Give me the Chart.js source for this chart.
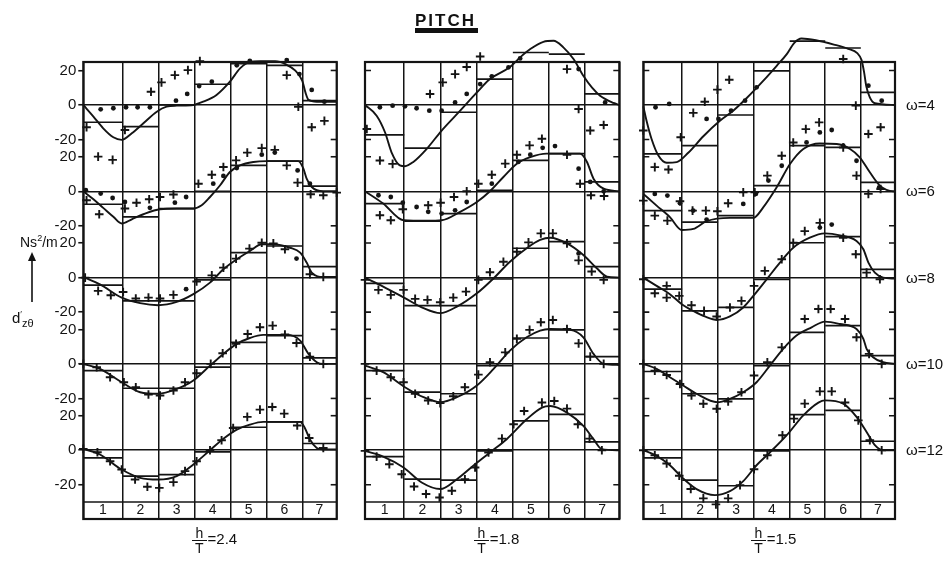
<!DOCTYPE html>
<html><head><meta charset="utf-8">
<script src="https://cdn.jsdelivr.net/npm/chart.js@4.4.1/dist/chart.umd.min.js"></script>
<style>
html,body{margin:0;padding:0;background:#fff;}
#wrap{position:relative;width:943px;height:564px;overflow:hidden;font-family:"Liberation Sans Narrow","Liberation Sans",Arial,sans-serif;color:#111;}
canvas{position:absolute;left:0;top:0;}
.t{position:absolute;white-space:nowrap;line-height:1;}
.frac{display:inline-block;vertical-align:middle;text-align:center;font-size:14px;margin-right:1px;}
.frac span{display:block;padding:0 3px;}
.frac .num{border-bottom:1.5px solid #111;}
</style></head><body>
<div id="wrap">
<canvas id="c0" width="943" height="564"></canvas>
<canvas id="c1" width="943" height="564"></canvas>
<canvas id="c2" width="943" height="564"></canvas>
<div class="t" style="left:415px;top:12px;font-family:'Liberation Sans',Arial,sans-serif;font-weight:bold;font-size:17px;letter-spacing:2px;">PITCH</div>
<div style="position:absolute;left:415px;top:28px;width:63px;height:5px;background:#111;"></div>
<div class="t" style="left:20px;top:234px;font-size:14px;">Ns<sup style="font-size:9px">2</sup>/m</div>
<svg style="position:absolute;left:26px;top:252px" width="12" height="52"><line x1="6" y1="6" x2="6" y2="50" stroke="#111" stroke-width="1.6"/><path d="M6 0 L2 9 L10 9 Z" fill="#111"/></svg>
<div class="t" style="left:12px;top:310px;font-size:15px;">d<sup style="font-size:9px">′</sup><sub style="font-size:11px">zθ</sub></div>
<div id="omegaLabels"></div>
<div id="ratioLabels"></div>
</div>
<script>
// ---------------- data ----------------
const omegas = [4, 6, 8, 10, 12];
const depthRatios = ['2.4', '1.8', '1.5'];
const stripLabels = ['1', '2', '3', '4', '5', '6', '7'];
const stripEdges = [0, 1.08, 2.08, 3.08, 4.07, 5.06, 6.05, 7];
const yTickValues = [20, 0, -20];
const bandValue = -30;   // lower edge of the omega=12 row (top of the strip label band)

// h/T = 2.4 : one entry per omega row
const steps24 = [
  [-10, -12.5, 0, 12, 24, 23, 2.5],
  [-7.5, -14.8, -10, 0, 15, 17.5, 3],
  [-4.4, -13.5, -13.5, -1.3, 14.5, 18.3, 6.4],
  [-3.9, -14.1, -14.1, -1.9, 12.5, 16.4, 3.5],
  [-4.4, -15, -14.1, -1, 13.3, 16.4, 3.9]
];
const curve24 = [
  [[0,0],[0.28,-6.7],[0.55,-13.5],[0.83,-18.7],[1.06,-20.2],[1.34,-16.4],[1.66,-10.6],[2.03,-3.9],[2.3,-1],[2.58,-0.4],[3.04,0],[3.31,1.9],[3.68,5.8],[4.05,13.5],[4.33,21.2],[4.6,25],[4.9,25.4],[5.3,25.4],[5.6,23.5],[5.85,20],[6.05,14],[6.14,7],[6.22,3],[6.45,1.9],[7,1.9]],
  [[0,0],[0.28,-4.6],[0.55,-9.6],[0.83,-14.8],[1.06,-18.7],[1.34,-16.2],[1.66,-13.3],[2.12,-10.4],[2.58,-10],[3.04,-10],[3.27,-8.1],[3.5,-3.3],[3.78,3.5],[4.05,11.2],[4.33,15],[4.7,17],[5.06,17.5],[5.94,17.5],[6.08,13.1],[6.17,7.3],[6.31,2.5],[6.63,0],[7,0]],
  [[0,0.4],[0.46,-3.9],[1.06,-11.6],[1.57,-14.8],[2.07,-16],[2.58,-14.1],[3.04,-9.6],[3.5,-2.9],[3.87,4.8],[4.24,10.6],[4.6,15.4],[4.93,19.3],[5.25,19.3],[5.71,17.3],[5.99,14.5],[6.17,8.7],[6.31,2.9],[6.63,0.4],[7,0.4]],
  [[0,0],[0.46,-2.9],[1.06,-10.6],[1.57,-16.4],[2.07,-17.3],[2.58,-14.5],[3.04,-9.6],[3.5,-1],[3.87,5.8],[4.24,11.6],[4.6,15],[4.97,16.8],[5.62,16.8],[5.99,13.5],[6.22,5.8],[6.45,1],[6.63,0],[7,0]],
  [[0,0.8],[0.46,-2.5],[1.06,-11.2],[1.57,-16],[2.07,-17],[2.58,-15],[3.04,-8.3],[3.5,0],[3.87,6.6],[4.24,11.9],[4.6,14.8],[4.97,16.4],[5.99,16.4],[6.12,12.9],[6.26,6.2],[6.45,1.3],[6.63,0.4],[7,0.4]]
];
const plus24 = [
  [[0.09,-12.9],[0.41,-29.9],[0.81,-31.8],[1.15,-14.5],[1.87,7.7],[2.16,13.1],[2.53,17.3],[2.89,20.2],[3.22,25.4],[3.57,28.9],[3.91,32.2],[4.25,36],[4.6,40.9],[4.93,40.9],[5.32,33.7],[5.62,17.3],[5.94,-1],[6.31,-12.9],[6.66,-9.2]],
  [[0.09,-5.2],[0.44,-13.3],[1.15,-10],[1.47,-6.6],[1.82,-4.6],[2.12,-3.3],[2.49,-1.9],[3.18,4.4],[3.55,9.6],[3.87,14.1],[4.22,17.9],[4.53,22.4],[4.93,25],[5.29,24],[5.62,15],[5.92,5],[6.28,-1.7],[6.63,-2.3],[7,-0.8]],
  [[0.05,0],[0.41,-7.7],[0.76,-10.2],[1.1,-8.3],[1.45,-12.1],[1.8,-11.6],[2.12,-12.1],[2.49,-10],[3.13,-2.3],[3.55,1.3],[3.87,5.8],[4.22,11],[4.59,16.8],[4.93,20.2],[5.25,19.8],[5.57,16.4],[6.26,1.9],[6.63,0.4]],
  [[0,0],[0.37,-1.9],[0.74,-7.7],[1.12,-10.6],[1.45,-13.5],[1.8,-17.7],[2.12,-18.3],[2.49,-15.4],[2.81,-10.6],[3.13,-5.4],[3.52,0],[3.85,6.2],[4.22,11.6],[4.54,17.3],[4.88,21.2],[5.23,22.2],[5.57,17],[5.89,12.1],[6.26,4.2],[6.63,0]],
  [[0,0.8],[0.39,-1.2],[0.74,-6.4],[1.06,-11.2],[1.43,-17],[1.77,-21.2],[2.1,-21.8],[2.49,-18.5],[2.81,-12.1],[3.13,-6.4],[3.5,0],[3.82,5.8],[4.14,12.9],[4.53,19.3],[4.88,23.5],[5.22,25],[5.55,21.2],[5.91,14.3],[6.24,7.1],[6.63,1.3]]
];
const dots24 = [
  [[0.48,-2.5],[0.83,-1.9],[1.18,-1.3],[1.5,-1.3],[1.84,-1.3],[2.56,2.5],[2.87,6.4],[3.2,11],[3.55,13.5],[4.24,23],[4.6,25.6],[4.93,30.2],[5.32,30.6],[5.62,26],[5.97,17.9],[6.31,8.7],[6.66,1.9]],
  [[0.07,0.6],[0.48,-1.3],[0.81,-3.9],[1.15,-6.2],[1.84,-9.6],[2.53,-6.6],[2.84,-3.3],[3.59,4.4],[3.87,8.9],[4.24,13.5],[4.93,21.2],[5.29,22.4],[5.92,12.1],[6.26,4.4]],
  [[2.84,-6.7],[5.89,11]],
  [],
  []
];

// h/T = 1.8
const steps18 = [
  [-17.3, -25, -4.2, 15, 30.4, 29.5, 6.4],
  [-7.1, -17.3, -12.9, 0.6, 17.9, 21.8, 5.4],
  [-3.3, -16.2, -16.2, -0.8, 17, 20.8, 6.4],
  [-3.9, -16.4, -17.3, -1, 15, 19.7, 4.2],
  [-3.7, -16.8, -17.3, -0.4, 17, 20.8, 4.8]
];
const curve18 = [
  [[0,0],[0.32,-6.2],[0.55,-15.8],[0.73,-27.4],[0.96,-35],[1.1,-35.5],[1.33,-33],[1.7,-25.4],[2.11,-14.8],[2.62,-3.3],[3.08,7.3],[3.44,15],[3.99,22],[4.27,27.6],[4.55,32.4],[4.91,36.6],[5.19,37.2],[5.46,33.4],[5.74,26.6],[6.01,16.9],[6.25,10],[6.47,5.4],[6.84,1.2],[7,0]],
  [[0,0],[0.5,-7.1],[1.06,-16.8],[1.7,-17.1],[2.11,-16.8],[2.62,-11.9],[3.08,-6.2],[3.44,0],[3.81,8.3],[4.18,16],[4.55,19.8],[5.0,21.8],[5.92,21.8],[6.11,17],[6.29,7.3],[6.57,1.5],[7,0]],
  [[0,0],[0.5,-5.2],[1.1,-11.9],[1.61,-17.7],[2.07,-20.6],[2.53,-16.8],[3.08,-9.1],[3.54,-0.4],[3.99,9.2],[4.45,17],[4.82,21.8],[5.1,23.1],[5.56,19.8],[6.01,13.1],[6.38,5.4],[6.66,0.6],[7,0]],
  [[0,-1],[0.5,-4.8],[1.1,-13.5],[1.61,-19.3],[2.07,-22.2],[2.53,-19.3],[3.08,-12.5],[3.54,-2.9],[3.99,7.7],[4.45,15.4],[4.82,19.3],[5.1,20.2],[5.65,19.7],[6.01,15.4],[6.29,5.8],[6.57,0],[7,-0.6]],
  [[0,-0.4],[0.5,-3.7],[1.06,-10],[1.56,-18.7],[2.07,-22.5],[2.53,-16.8],[3.03,-8.1],[3.44,-1.3],[3.9,6.4],[4.45,17.9],[4.87,24.7],[5.1,25.6],[5.56,21.8],[6.01,14.1],[6.29,6.4],[6.52,0.6],[7,0]]
];
const plus18 = [
  [[0.05,-13.9],[0.41,-32.2],[0.76,-34.1],[1.79,6.4],[2.14,13.1],[2.48,17.9],[2.8,22],[3.17,28.1],[3.49,32.8],[3.9,37.7],[4.22,43.5],[5.23,39.7],[5.56,20.8],[5.88,-2.3],[6.2,-14.8],[6.57,-11.6]],
  [[0.41,-13.9],[0.71,-16.8],[1.04,-10.4],[1.74,-8.1],[2.08,-6.6],[2.45,-3.3],[2.8,0],[3.12,4.4],[3.49,9.6],[3.86,16],[4.18,21.2],[4.53,26.6],[4.87,30.4],[5.56,21.2],[5.92,4.4],[6.22,-2.3],[6.58,-2.7]],
  [[0,-1.3],[0.37,-7.1],[0.71,-10],[1.06,-7.1],[1.38,-12.3],[1.72,-12.9],[2.07,-14.3],[2.43,-11.6],[2.78,-8.1],[3.12,-1.3],[3.44,3.1],[3.81,9.2],[4.18,15],[4.5,20.4],[4.84,25.6],[5.17,25.6],[5.56,19.8],[5.88,10],[6.24,3.5],[6.57,-1.3]],
  [[0,0],[0.32,-3.9],[0.71,-7.7],[1.06,-10.6],[1.38,-17.3],[1.74,-21.2],[2.07,-22.7],[2.43,-18.7],[2.75,-13.5],[3.12,-6.2],[3.44,1],[3.86,6.7],[4.18,14.5],[4.53,19.7],[4.84,24.1],[5.17,25.4],[5.56,20.2],[5.88,11.9],[6.2,4.2],[6.57,0]],
  [[0,-0.4],[0.32,-3.7],[0.67,-8.1],[1.01,-13.9],[1.35,-21],[1.68,-25.4],[2.05,-27.4],[2.39,-23.5],[2.75,-16.8],[3.03,-10],[3.4,-1.3],[3.77,6.7],[4.09,15],[4.38,22.7],[4.87,27.6],[5.21,28.5],[5.56,24.1],[5.86,15],[6.18,6.7],[6.52,0]]
];
const dots18 = [
  [[0.41,-1.3],[0.76,-0.4],[1.1,-0.8],[1.42,-1.9],[1.77,-3.3],[2.11,-3.3],[2.48,1.5],[2.8,6.4],[3.17,12.1],[3.49,16.6],[3.95,21.8],[4.27,27],[4.96,36.6],[5.56,30.8],[5.88,20.8],[6.61,1.5]],
  [[0.37,-2.3],[0.71,-3.3],[1.04,-6.6],[1.42,-9.1],[1.74,-11.9],[2.11,-12.9],[2.48,-11],[2.8,-6.2],[3.49,4.4],[4.22,17],[4.55,21.2],[4.89,25.2],[5.23,26.2],[5.88,13.1],[6.2,5.4],[6.57,0]],
  [[5.88,14]],
  [],
  []
];

// h/T = 1.5
const steps15 = [
  [-28.3, -23.5, -5.8, 19.8, 37, 33, 7.3],
  [-11.2, -17.9, -14.1, 3.3, 26.4, 25.4, 5.2],
  [-6.7, -19.3, -17.3, -1, 20.2, 23.7, 4.8],
  [-4.4, -17.3, -20.2, -1, 18.3, 22.2, 4.8],
  [-4.4, -17.3, -20.6, -0.4, 20.6, 23.1, 5.2]
];
const curve15 = [
  [[0,-0.8],[0.09,-9.1],[0.23,-19.7],[0.42,-29.3],[0.65,-33.5],[0.93,-33.1],[1.25,-27.7],[1.67,-18.1],[2.13,-9.1],[2.5,-3.3],[2.87,3.9],[3.34,14.1],[3.71,22.7],[3.99,29.5],[4.2,36],[4.4,38.5],[4.8,37.5],[5.3,35],[5.7,32.5],[5.95,30],[6.07,26],[6.14,19],[6.2,11],[6.3,4.4],[6.44,1],[7,0]],
  [[0,-1.5],[0.37,-8.3],[0.74,-15],[1.07,-22.4],[1.39,-21.8],[1.76,-17.3],[2.41,-15.4],[3.06,-15.4],[3.34,-9.2],[3.71,2.3],[4.08,15.8],[4.45,24.5],[4.91,27.7],[5.38,27.4],[5.75,24.5],[6.02,19.7],[6.3,11],[6.58,3.3],[6.95,0],[7,0]],
  [[0,0],[0.37,-4.8],[0.74,-9.6],[1.07,-15.4],[1.39,-19.3],[1.71,-22.5],[2.06,-24.5],[2.41,-22.5],[2.78,-17.3],[3.06,-10.6],[3.43,-1],[3.8,8.7],[4.17,17.3],[4.63,23.1],[5.05,25.6],[5.47,24.5],[5.93,21.2],[6.12,16.4],[6.26,8.7],[6.44,2.9],[6.67,0],[7,-0.6]],
  [[0,0],[0.37,-2.9],[0.74,-7.7],[1.11,-12.5],[1.48,-17.3],[2.06,-22.2],[2.41,-20.2],[2.78,-16.4],[3.15,-10.6],[3.52,-1],[3.89,8.7],[4.26,16.4],[4.68,21.2],[5.05,24.5],[5.47,23.1],[5.93,20.2],[6.12,14.5],[6.21,8.7],[6.39,3.9],[6.67,1],[7,0]],
  [[0,0],[0.37,-3.3],[0.74,-8.7],[1.11,-16.4],[1.48,-22.5],[1.99,-26],[2.41,-23.7],[2.78,-17.9],[3.15,-8.7],[3.52,-1.3],[3.99,8.7],[4.45,20.2],[4.87,27.6],[5.05,28.9],[5.56,27],[5.93,19.3],[6.21,10.6],[6.44,2.9],[6.67,0],[7,0]]
];
const plus15 = [
  [[0,-14.8],[0.32,-36],[0.7,-37.4],[1.04,-18.7],[1.39,-4.6],[1.71,1.9],[2.06,8.9],[2.39,14.6],[3.1,28.5],[3.05,52],[5.56,26.6],[5.91,-0.4],[6.26,-16.8],[6.6,-12.9]],
  [[0,-5.4],[0.32,-14.1],[0.67,-17],[1.02,-5.8],[1.37,-11.2],[1.74,-11.2],[2.06,-11.6],[2.36,-6.9],[2.78,-0.6],[3.1,-0.6],[3.45,9.1],[3.85,20.6],[4.17,28.3],[4.52,36],[4.89,39.9],[5.56,25.4],[5.93,9.1],[6.26,-1.5],[6.6,1.3]],
  [[0,-1],[0.32,-9.1],[0.65,-4.8],[0.65,-11.6],[1,-10.6],[1.34,-16],[1.69,-19.3],[2.04,-22.5],[2.41,-17.3],[2.73,-13.5],[3.08,-4.8],[3.38,3.9],[3.85,10.6],[4.17,20.2],[4.49,26.9],[4.91,31.7],[5.56,23.1],[5.91,13.5],[6.21,2.9],[6.58,-1]],
  [[0,0],[0.32,-3.9],[0.65,-6.4],[1.02,-11.6],[1.34,-18.3],[1.67,-23.1],[2.04,-26],[2.36,-21.8],[2.73,-16.4],[3.08,-6.7],[3.45,1],[3.85,9.6],[4.49,26],[4.87,31.8],[5.21,31.8],[5.61,26],[5.93,15.4],[6.28,5.8],[6.63,0]],
  [[0,0],[0.32,-2.9],[0.65,-7.7],[1,-14.8],[1.32,-22.5],[1.67,-27.9],[2.02,-31.4],[2.36,-27.9],[2.69,-20.2],[3.08,-11],[3.45,-2.9],[3.87,8.7],[4.19,18.3],[4.49,27],[4.91,34.1],[5.24,34.1],[5.61,27.6],[5.98,17.3],[6.3,5.8],[6.63,0]]
];
const dots15 = [
  [[0.34,-1.3],[0.72,0.6],[1.76,-8.1],[2.09,-8.1],[2.44,-3.3],[2.83,2.5],[3.15,10.2],[5.1,45],[5.4,45],[5.85,35],[6.26,11.2],[6.63,2.5]],
  [[0.32,-1.5],[0.67,-2.5],[1.02,-6.9],[1.39,-11.2],[1.76,-16.4],[2.78,-7.3],[3.13,-1.5],[3.48,6.2],[3.85,14.8],[4.54,28.3],[4.91,34.1],[5.24,35.5],[5.56,26.4],[5.93,17.7],[6.56,2.3]],
  [[4.91,29],[5.24,30.7]],
  [],
  []
];

// ---------------- layout (not data) ----------------
const frames = [{l:83.3, r:336.7}, {l:365, r:619.3}, {l:643.3, r:895}];
const frameTop = 62, bandTop = 502, frameBottom = 519;
const rowGap = 50;                 // value offset between stacked omega rows
const yMax = 24.9;
const yMin = bandValue - rowGap * (omegas.length - 1);
const ink = '#141414';
const fontFam = "'Liberation Sans Narrow','Liberation Sans',Arial,sans-serif";

const panelData = [
  {steps: steps24, curve: curve24, plus: plus24, dots: dots24},
  {steps: steps18, curve: curve18, plus: plus18, dots: dots18},
  {steps: steps15, curve: curve15, plus: plus15, dots: dots15}
];

// x ticks: strip edges (grid lines / band dividers) and strip centres (labels)
const xTicks = [];
stripEdges.forEach((e, i) => {
  xTicks.push({value: e, label: '', edge: true});
  if (i < stripEdges.length - 1) xTicks.push({value: (e + stripEdges[i + 1]) / 2, label: stripLabels[i], edge: false});
});
// y ticks: +-20 and 0 for each omega row
const yTicks = [];
for (let r = omegas.length - 1; r >= 0; r--) {
  [...yTickValues].reverse().forEach(t => yTicks.push({value: t - rowGap * r, label: String(t), kind: t === 0 ? 'zero' : 'minor'}));
}

const framePlugin = {
  id: 'frame',
  afterDatasetsDraw(chart, args, opts) {
    const {ctx, chartArea: a} = chart;
    const y = chart.scales.y, x = chart.scales.x;
    ctx.save();
    ctx.strokeStyle = ink;
    ctx.lineWidth = 2.2;
    ctx.strokeRect(a.left, a.top, a.right - a.left, x.bottom - a.top);
    ctx.lineWidth = 1.6;
    ctx.beginPath(); ctx.moveTo(a.left, a.bottom); ctx.lineTo(a.right, a.bottom); ctx.stroke();
    yTicks.forEach(t => {
      if (t.kind !== 'minor') return;
      const py = y.getPixelForValue(t.value);
      ctx.beginPath();
      ctx.moveTo(a.right - 6, py); ctx.lineTo(a.right, py);
      if (opts.innerLeft) { ctx.moveTo(a.left, py); ctx.lineTo(a.left + 6, py); }
      ctx.stroke();
    });
    ctx.restore();
  }
};

function makePanel(p) {
  const d = panelData[p];
  const fr = frames[p];
  const yW = p === 0 ? 40 : 0;
  const bandH = frameBottom - bandTop;
  const datasets = [];
  omegas.forEach((w, r) => {
    const off = -rowGap * r;
    datasets.push({
      data: d.curve[r].map(([x, v]) => ({x, y: v + off})),
      borderColor: ink, borderWidth: 1.9, pointRadius: 0, cubicInterpolationMode: 'monotone', clip: false, fill: false
    });
    const stepPts = [];
    d.steps[r].forEach((v, i) => {
      stepPts.push({x: stripEdges[i], y: v + off}, {x: stripEdges[i + 1], y: v + off}, {x: stripEdges[i + 1], y: null});
    });
    datasets.push({data: stepPts, borderColor: ink, borderWidth: 1.7, pointRadius: 0, spanGaps: false, clip: false, fill: false});
    datasets.push({
      data: d.plus[r].map(([x, v]) => ({x, y: v + off})), showLine: false,
      pointStyle: 'cross', pointRadius: 4.3, pointBorderWidth: 1.9, pointBorderColor: ink, borderColor: ink, clip: false
    });
    datasets.push({
      data: d.dots[r].map(([x, v]) => ({x, y: v + off})), showLine: false,
      pointStyle: 'circle', pointRadius: 2.4, pointBorderWidth: 0, pointBackgroundColor: ink, borderColor: ink, clip: false
    });
  });
  return new Chart(document.getElementById('c' + p), {
    type: 'line',
    data: {datasets},
    plugins: [framePlugin],
    options: {
      responsive: false, animation: false, devicePixelRatio: 1,
      events: [],
      layout: {padding: {left: fr.l - yW, right: 943 - fr.r, top: frameTop, bottom: 564 - frameBottom}},
      plugins: {legend: {display: false}, tooltip: {enabled: false}, frame: {innerLeft: p !== 0}},
      scales: {
        x: {
          type: 'linear', min: 0, max: 7,
          afterBuildTicks: s => { s.ticks = xTicks.map(t => ({value: t.value})); },
          afterFit: s => { s.height = bandH; },
          ticks: {autoSkip: false, maxRotation: 0, padding: -(bandH + 0.5), color: ink,
            font: {family: fontFam, size: 14},
            callback: (v, i) => xTicks[i] ? xTicks[i].label : ''},
          grid: {drawTicks: true, tickLength: bandH, lineWidth: 1.5, tickWidth: 1.5,
            color: c => (xTicks[c.index] && xTicks[c.index].edge) ? ink : 'rgba(0,0,0,0)',
            tickColor: c => (xTicks[c.index] && xTicks[c.index].edge) ? ink : 'rgba(0,0,0,0)'},
          border: {display: false}
        },
        y: {
          type: 'linear', min: yMin, max: yMax,
          afterBuildTicks: s => { s.ticks = yTicks.map(t => ({value: t.value})); },
          afterFit: s => { s.width = yW; },
          ticks: {display: p === 0, autoSkip: false, padding: 2, color: ink,
            font: {family: fontFam, size: 15},
            callback: (v, i) => yTicks[i] ? yTicks[i].label : ''},
          grid: {drawTicks: p === 0, tickLength: 5, lineWidth: 1.5, tickWidth: 1.6,
            tickColor: ink,
            color: c => (yTicks[c.index] && yTicks[c.index].kind === 'zero') ? ink : 'rgba(0,0,0,0)'},
          border: {display: false}
        }
      }
    }
  });
}
[0, 1, 2].forEach(makePanel);

// omega labels at the right, aligned with each row's zero line
const yScale = Chart.getChart('c2').scales.y;
const om = document.getElementById('omegaLabels');
omegas.forEach((w, r) => {
  const el = document.createElement('div');
  el.className = 't';
  el.style.cssText = `left:906px;top:${yScale.getPixelForValue(-rowGap * r) - 8}px;font-size:15px;`;
  el.textContent = 'ω=' + w;
  om.appendChild(el);
});
// depth ratio labels under each panel
const rl = document.getElementById('ratioLabels');
depthRatios.forEach((h, p) => {
  const fr = frames[p];
  const el = document.createElement('div');
  el.className = 't';
  el.style.cssText = `left:${(fr.l + fr.r) / 2 - 18}px;top:526px;font-size:15px;`;
  el.innerHTML = `<span class="frac"><span class="num">h</span><span>T</span></span>=${h}`;
  rl.appendChild(el);
});
</script>
</body></html>
